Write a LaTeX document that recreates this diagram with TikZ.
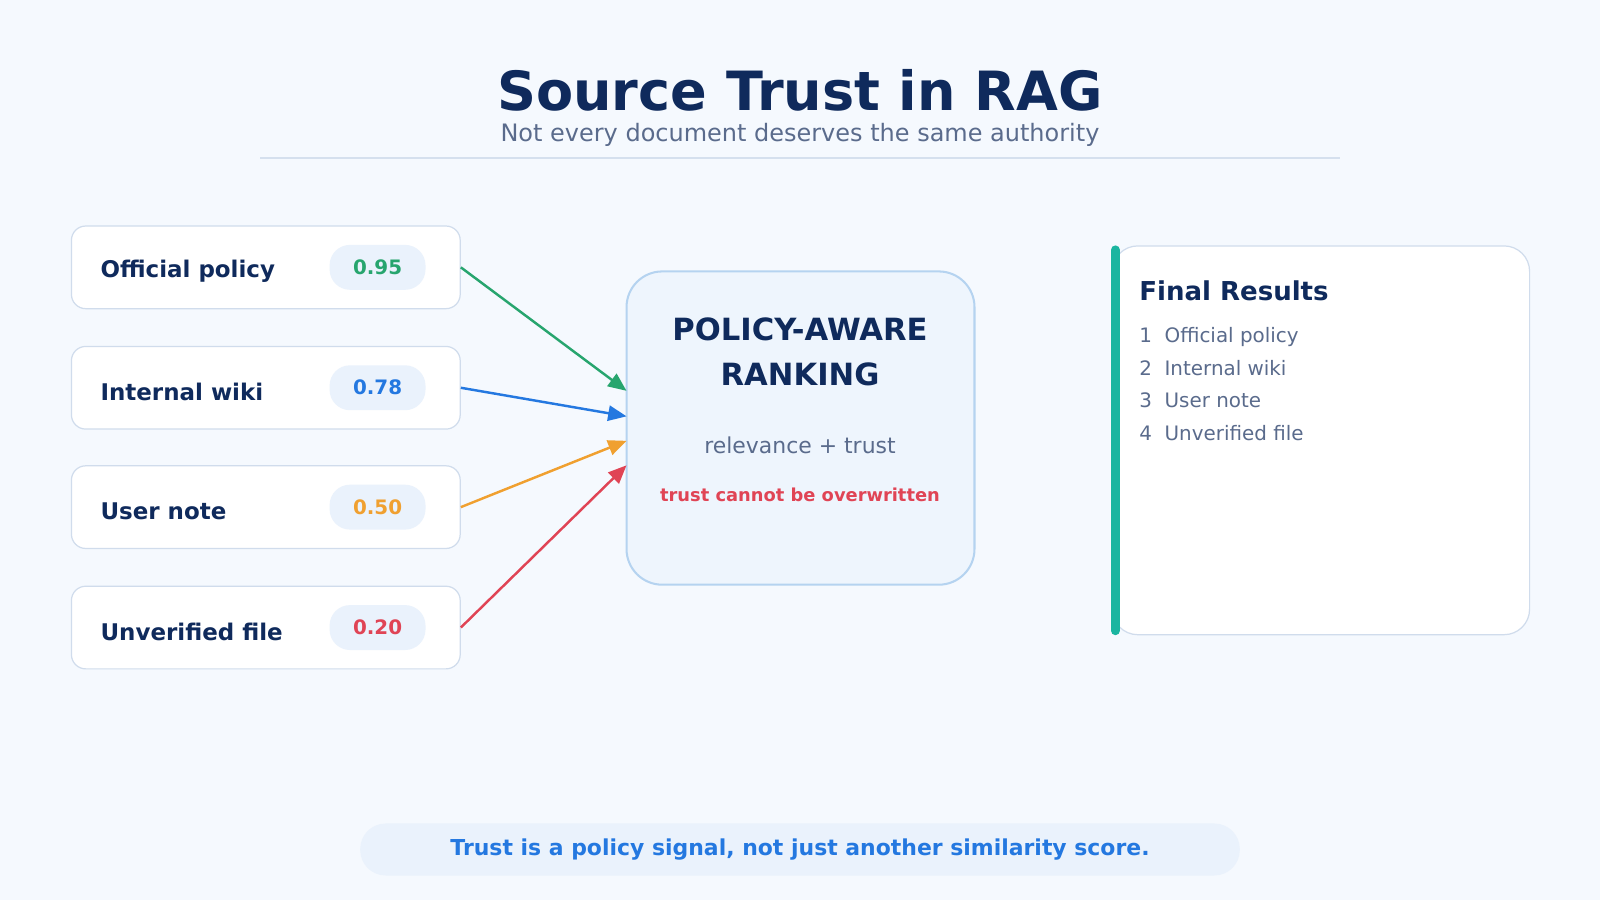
\documentclass[tikz,border=0pt]{standalone}
\usepackage{fontspec}
\setmainfont{DejaVu Sans}
\usetikzlibrary{arrows.meta,positioning}
\definecolor{bgc}{HTML}{F5F9FE}
\definecolor{navy}{HTML}{0F2A5C}
\definecolor{slate}{HTML}{5A6B8C}
\definecolor{rulec}{HTML}{D5E0EE}
\definecolor{edgec}{HTML}{D0DCEC}
\definecolor{pillc}{HTML}{EAF2FC}
\definecolor{cgreen}{HTML}{27A56E}
\definecolor{cblue}{HTML}{2478E0}
\definecolor{corange}{HTML}{F0A030}
\definecolor{cred}{HTML}{E04455}
\definecolor{rankfill}{HTML}{EEF5FD}
\definecolor{rankedge}{HTML}{B5D3F0}
\definecolor{teal}{HTML}{1BB5A0}
\tikzset{
  src/.style={draw=edgec,line width=1.2pt,fill=white,rounded corners=14pt,minimum width=381pt,minimum height=81pt},
  srclabel/.style={anchor=west,text=navy,font=\fontsize{22.5}{26}\selectfont\bfseries},
  score/.style={fill=pillc,rounded corners=20pt,minimum width=94pt,minimum height=44pt,font=\fontsize{19.5}{22}\selectfont\bfseries},
  link/.style={line width=2.4pt,-{Triangle[length=18pt,width=15pt]}},
  item/.style={anchor=west,text=slate,font=\fontsize{19.5}{23}\selectfont}
}
\begin{document}
\begin{tikzpicture}[x=1pt,y=-1pt]
\fill[bgc] (0,0) rectangle (1568,882);
\useasboundingbox (0,0) rectangle (1568,882);
% header
\node[text=navy,font=\fontsize{53}{60}\selectfont\bfseries] (title) at (784,89) {Source Trust in RAG};
\node[text=slate,font=\fontsize{23.5}{27}\selectfont] (subtitle) at (784,132) {Not every document deserves the same authority};
\draw[rulec,line width=2pt] (255,155) -- (1313,155);
% sources
\foreach \n/\y/\t/\s/\c in {a/262/Official policy/0.95/cgreen,b/380/Internal wiki/0.78/cblue,c/497/User note/0.50/corange,d/615/Unverified file/0.20/cred}{
  \node[src] (\n) at (260.5,\y) {};
  \node[srclabel] (\n l) at (95,\y+4) {\t};
  \node[score,text=\c] (\n s) at (370,\y) {\s};
}
% ranking
\node[draw=rankedge,line width=2pt,fill=rankfill,rounded corners=35pt,minimum width=341pt,minimum height=307pt] (rank) at (784.5,419.5) {};
\node[text=navy,align=center,font=\fontsize{30}{44}\selectfont\bfseries] (rankt) at (784,345) {POLICY-AWARE\\RANKING};
\node[text=slate,font=\fontsize{21.5}{24}\selectfont] (rel) at (784,436) {relevance + trust};
\node[text=cred,font=\fontsize{17.5}{20}\selectfont\bfseries] (note) at (784,485) {trust cannot be overwritten};
\coordinate (ia) at (614,383);
\coordinate (ib) at (614,408);
\coordinate (ic) at (614,432);
\coordinate (id) at (614,456);
\draw[link,cgreen] (a.east) -- (ia);
\draw[link,cblue] (b.east) -- (ib);
\draw[link,corange] (c.east) -- (ic);
\draw[link,cred] (d.east) -- (id);
% results
\node[draw=edgec,line width=1.2pt,fill=white,rounded corners=25pt,minimum width=409pt,minimum height=381pt] (res) at (1294.5,431.5) {};
\draw[teal,line width=9pt,line cap=round] (1093,245) -- (1093,618);
\node[anchor=west,text=navy,font=\fontsize{25.5}{29}\selectfont\bfseries] (rest) at (1113,285) {Final Results};
\foreach \i/\t/\y in {1/Official policy/330,2/Internal wiki/361,3/User note/392,4/Unverified file/424}
  \node[item] (r\i) at (1113,\y) {\i\ \ \t};
% footer
\node[fill=pillc,rounded corners=25pt,minimum width=862pt,minimum height=51pt,text=cblue,font=\fontsize{21.5}{24}\selectfont\bfseries] (foot) at (784,832.5) {Trust is a policy signal, not just another similarity score.};
\end{tikzpicture}
\end{document}
